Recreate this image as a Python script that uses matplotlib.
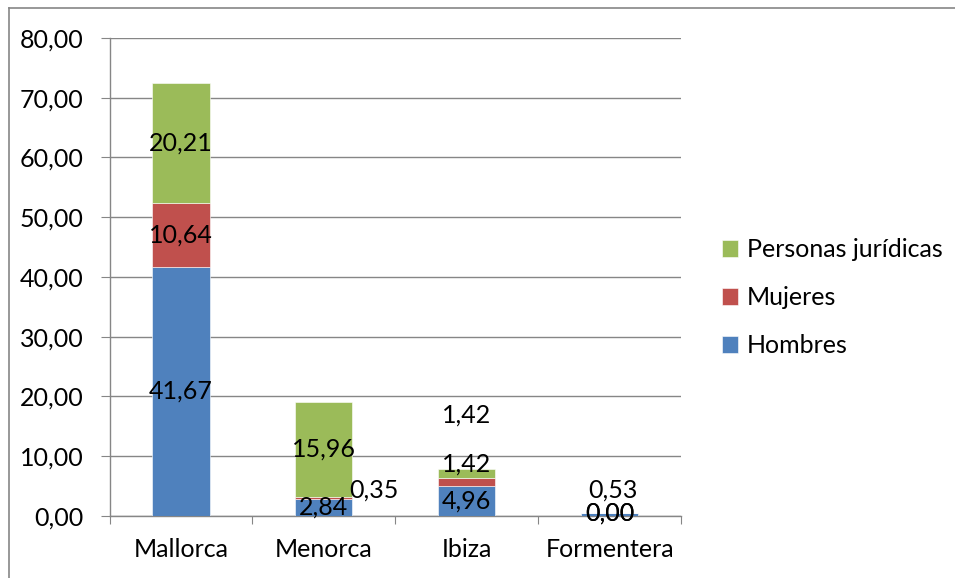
import numpy as np
import matplotlib.pyplot as plt
from matplotlib.lines import Line2D

# Datos
islas = ['Mallorca', 'Menorca', 'Ibiza', 'Formentera']
hombres = [41.67, 2.84, 4.96, 0.53]
mujeres = [10.64, 0.35, 1.42, 0.00]
personas_juridicas = [20.21, 15.96, 1.42, 0.00]

series = ['Hombres', 'Mujeres', 'Personas jurídicas']
colores = ['#4F81BD', '#C0504D', '#9BBB59']

# desplazamiento de etiquetas (pixeles) que Excel movio
desplaz = {
    ('Mujeres', 1): (50, 8),
    ('Mujeres', 2): (0, 18),
    ('Personas jurídicas', 2): (0, 59),
    ('Hombres', 3): (3, 24),
}

plt.rcParams['font.family'] = ['Lato', 'DejaVu Sans']
fs = 18

fig = plt.figure(figsize=(9.55, 5.78), dpi=100)
ax = fig.add_axes([0.1147, 0.1073, 0.5984, 0.827])

x = np.arange(len(islas)) + 0.5
base = np.zeros(len(islas))
valores = [hombres, mujeres, personas_juridicas]
handles = []
for nombre, vals, col in zip(series, valores, colores):
    vals = np.array(vals)
    b = ax.bar(x, vals, 0.4, bottom=base, color=col, edgecolor='white',
               linewidth=0.4, zorder=3, label=nombre)
    handles.append(b)
    for i, v in enumerate(vals):
        dx, dy = desplaz.get((nombre, i), (0, 0))
        ax.annotate(f'{v:.2f}'.replace('.', ','), (x[i], base[i] + v / 2),
                    xytext=(dx * 0.72, dy * 0.72), textcoords='offset points',
                    ha='center', va='center', fontsize=fs, color='black',
                    zorder=5)
    base = base + vals

ax.set_xlim(0, 4)
ax.set_ylim(0, 80)
ax.set_yticks(np.arange(0, 81, 10))
ax.set_yticklabels([f'{t:.2f}'.replace('.', ',') for t in np.arange(0, 81, 10)],
                   fontsize=fs)
ax.set_xticks([0, 1, 2, 3, 4])
ax.set_xticklabels([])
ax.set_xticks(x, minor=True)
ax.set_xticklabels(islas, minor=True, fontsize=fs)
ax.tick_params(axis='x', which='minor', length=0, pad=16)
ax.tick_params(axis='x', which='major', length=5.5, color='#868686')
ax.tick_params(axis='y', length=6.5, color='#868686', pad=12)

ax.grid(axis='y', color='#868686', linewidth=1, zorder=0)
ax.set_axisbelow(True)
for s in ['top', 'right']:
    ax.spines[s].set_visible(False)
for s in ['left', 'bottom']:
    ax.spines[s].set_color('#868686')
    ax.spines[s].set_linewidth(1)

leg = fig.legend(handles[::-1], series[::-1], loc='center left',
                 bbox_to_anchor=(0.756, 0.485), frameon=False, fontsize=fs,
                 handlelength=0.65, handleheight=0.65, handletextpad=0.35,
                 labelspacing=1.0, borderaxespad=0, borderpad=0)

# borde exterior del grafico
fig.add_artist(Line2D([0.0095, 0.0095], [0, 0.986], color='#868686', lw=1.2))
fig.add_artist(Line2D([0.0095, 1], [0.986, 0.986], color='#868686', lw=1.2))

fig.savefig('out.png', dpi=100)
